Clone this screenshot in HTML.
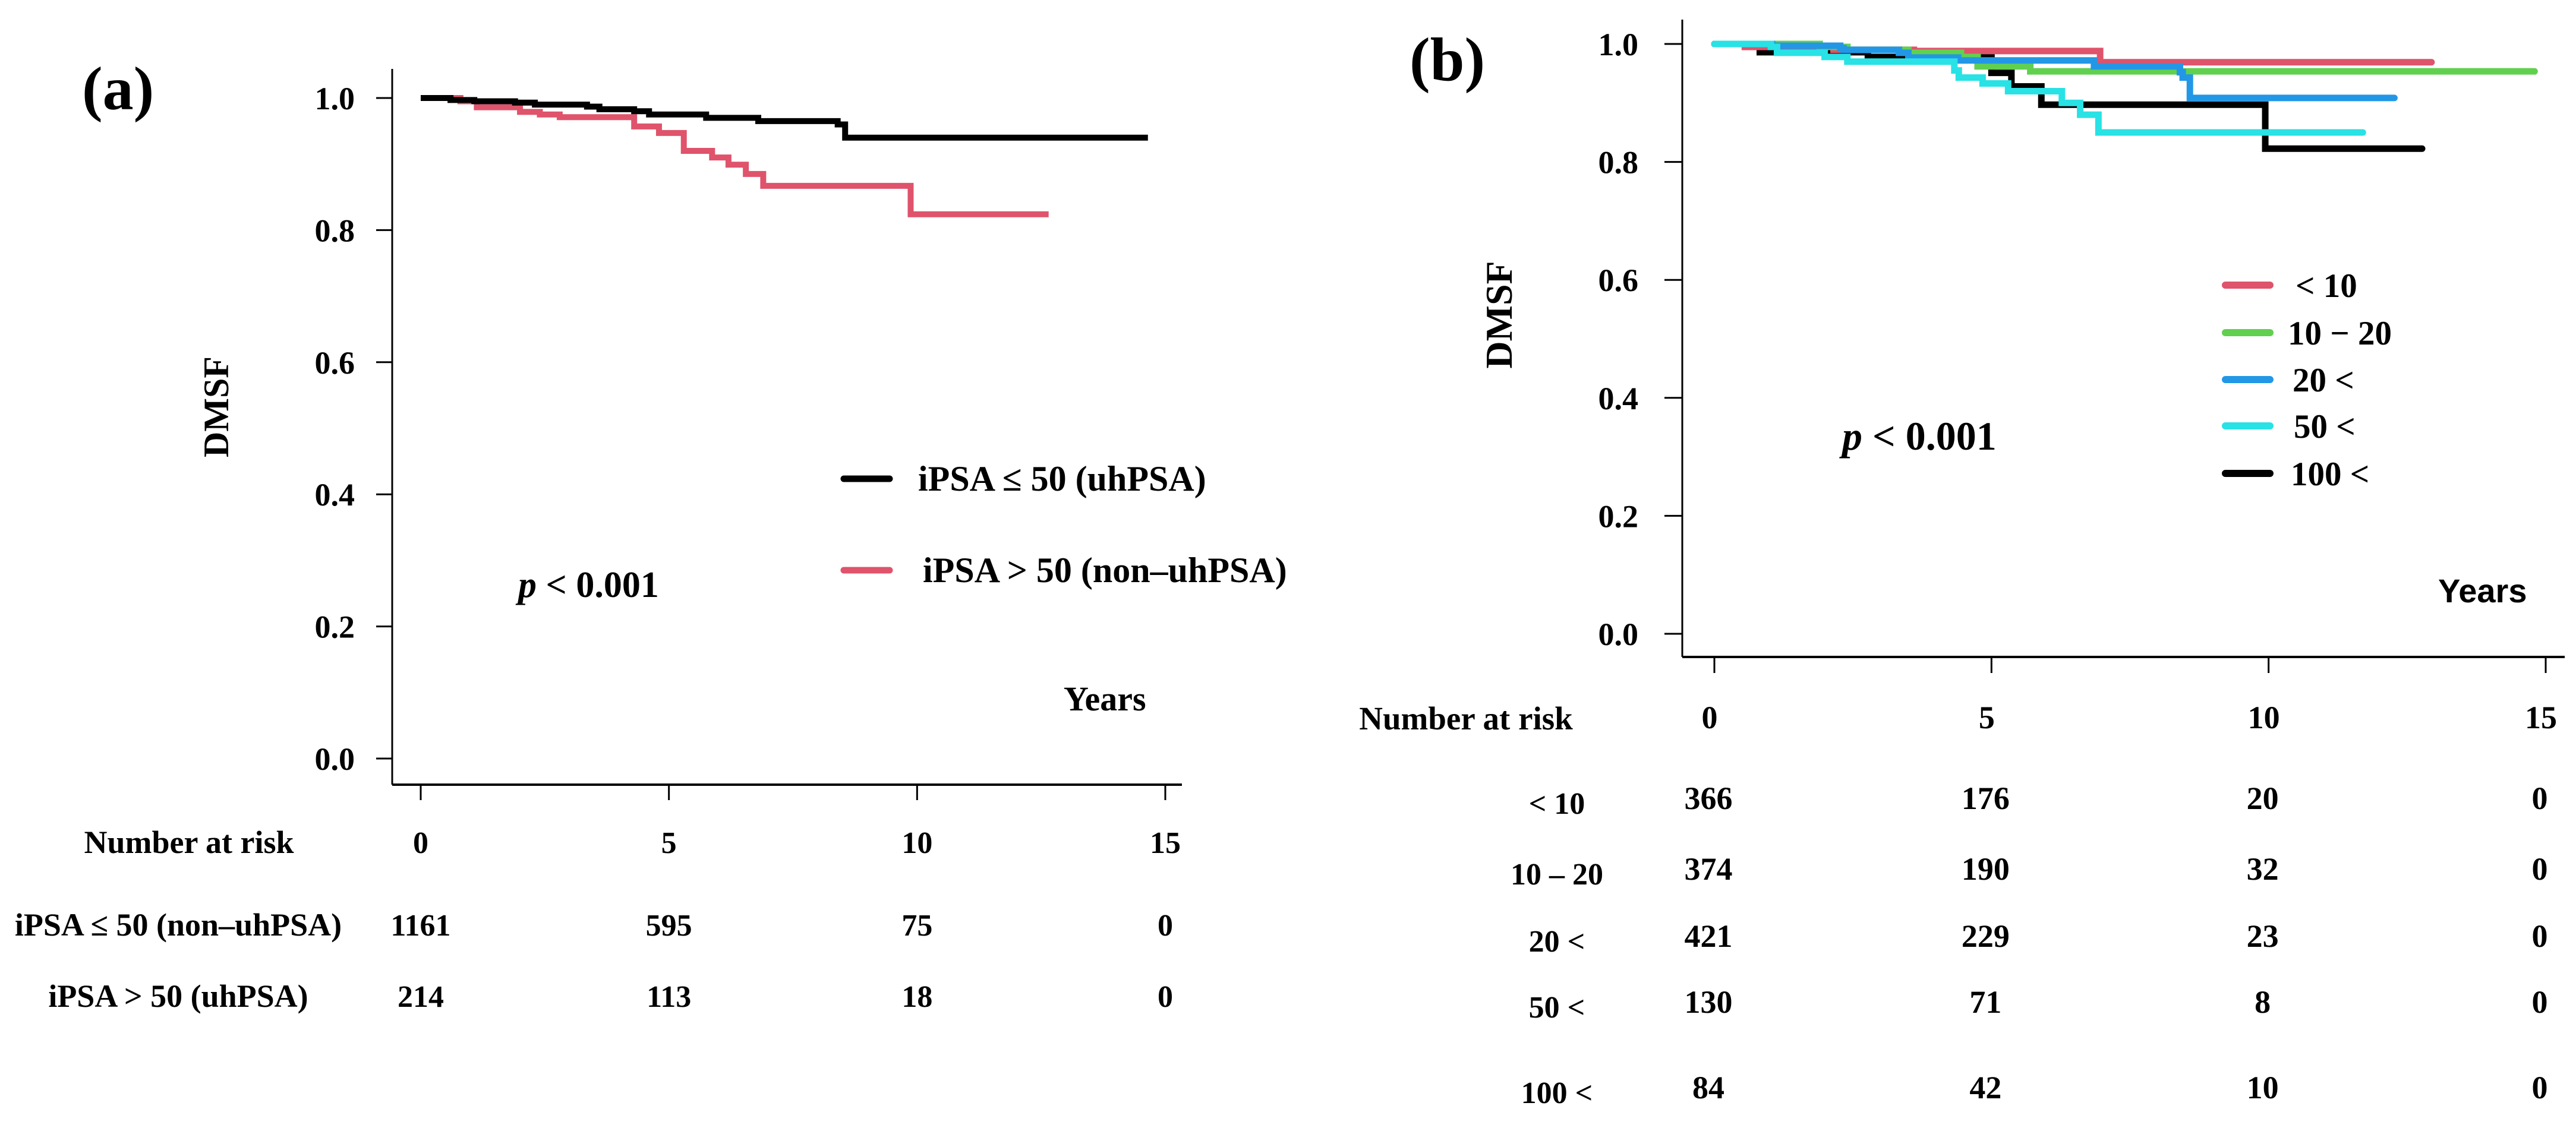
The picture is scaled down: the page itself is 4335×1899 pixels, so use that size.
<!DOCTYPE html>
<html><head><meta charset="utf-8">
<style>
html,body{margin:0;padding:0;background:#fff;}
svg{display:block;}
text{font-family:"Liberation Serif",serif;font-weight:bold;fill:#000;}
</style></head>
<body>
<svg id="fig" width="4335" height="1899" viewBox="0 0 4335 1899" xmlns="http://www.w3.org/2000/svg">
<g id="pa"></g>
<g id="pb"></g>
</svg>
<script>
// ---------- Panel (a) data ----------
const aYTicks = [0, 0.2, 0.4, 0.6, 0.8, 1.0];
const aYTickLabels = ["0.0","0.2","0.4","0.6","0.8","1.0"];
const xTicks = [0, 5, 10, 15];
const xTickLabels = ["0","5","10","15"];
const aBlackT = [0, 0.6, 1.08, 1.9, 2.3, 3.35, 3.6, 4.3, 4.6, 5.75, 6.8, 8.4, 8.55, 14.65];
const aBlackS = [1.0, 0.997, 0.995, 0.993, 0.99, 0.987, 0.983, 0.98, 0.975, 0.97, 0.965, 0.96, 0.94, 0.94];
const aRedT = [0, 0.8, 1.13, 2.0, 2.4, 2.8, 4.3, 4.8, 5.3, 5.87, 6.2, 6.55, 6.9, 9.87, 12.65];
const aRedS = [1.0, 0.995, 0.986, 0.979, 0.975, 0.971, 0.957, 0.947, 0.92, 0.91, 0.899, 0.885, 0.867, 0.824, 0.824];
const aRiskGroups = ["iPSA \u2264 50  (non\u2013uhPSA)", "iPSA > 50 (uhPSA)"];
const aRisk1 = [1161, 595, 75, 0];
const aRisk2 = [214, 113, 18, 0];

// ---------- Panel (b) data ----------
const bLt10T = [0, 0.55, 2.15, 3.6, 6.96, 12.94];
const bLt10S = [1.0, 0.995, 0.99, 0.988, 0.969, 0.969];
const b10to20T = [0, 1.9, 2.4, 3.5, 4.45, 4.75, 5.7, 14.8];
const b10to20S = [1.0, 0.995, 0.99, 0.985, 0.978, 0.962, 0.9535, 0.9535];
const b20T = [0, 1.04, 2.27, 2.33, 3.33, 3.5, 4.4, 6.85, 8.4, 8.45, 8.58, 12.27];
const b20S = [1.0, 0.997, 0.993, 0.99, 0.985, 0.977, 0.972, 0.962, 0.952, 0.943, 0.9085, 0.9085];
const b50T = [0, 1.02, 1.13, 1.99, 2.4, 4.33, 4.41, 4.84, 5.3, 6.27, 6.6, 6.93, 11.7];
const b50S = [1.0, 0.995, 0.985, 0.978, 0.97, 0.955, 0.943, 0.933, 0.92, 0.9, 0.88, 0.85, 0.85];
const b100T = [0, 0.82, 2.77, 5.0, 5.36, 5.9, 9.94, 12.77];
const b100S = [1.0, 0.986, 0.978, 0.951, 0.928, 0.897, 0.8225, 0.8225];
const bGroups = ["< 10", "10 \u2212 20", "20 <", "50 <", "100 <"];
const bRiskLabels = ["< 10", "10 \u2013 20", "20 <", "50 <", "100 <"];
const bRisk1 = [366, 176, 20, 0];
const bRisk2 = [374, 190, 32, 0];
const bRisk3 = [421, 229, 23, 0];
const bRisk4 = [130, 71, 8, 0];
const bRisk5 = [84, 42, 10, 0];

const NS = "http://www.w3.org/2000/svg";
function mk(parent, tag, attrs, txt){
  const e = document.createElementNS(NS, tag);
  for (const k in attrs) e.setAttribute(k, attrs[k]);
  if (txt !== undefined) e.textContent = txt;
  parent.appendChild(e);
  return e;
}
function stepPath(T, S, xs, ys){
  let d = "M" + xs(T[0]) + "," + ys(S[0]);
  for (let i = 1; i < T.length; i++){
    d += " H" + xs(T[i]) + " V" + ys(S[i]);
  }
  return d;
}

// ================= Panel (a) =================
(function(){
  const g = document.getElementById("pa");
  const xa = t => 708 + t * (1961 - 708) / 15;
  const ya = v => 1277 - v * (1277 - 165);
  let e;
  e = mk(g, "text", {x: 138, y: 184, "font-size": 104}, "(a)");
  
  
  e = mk(g, "line", {x1: 660, y1: 116, x2: 660, y2: 1321, stroke: "#000", "stroke-width": 3});
  
  
  e = mk(g, "line", {x1: 660, y1: 1321, x2: 1989, y2: 1321, stroke: "#000", "stroke-width": 4});
  
  
  aYTicks.forEach((v, i) => {
    const t = mk(g, "line", {x1: 633, y1: ya(v), x2: 660, y2: ya(v), stroke: "#000", "stroke-width": 3});
    
    
    const l = mk(g, "text", {x: 597, y: ya(v) + 19, "font-size": 54, "text-anchor": "end"}, aYTickLabels[i]);
    
    
  });
  xTicks.forEach((v, i) => {
    const t = mk(g, "line", {x1: xa(v), y1: 1321, x2: xa(v), y2: 1347, stroke: "#000", "stroke-width": 3});
    
    
    const l = mk(g, "text", {x: xa(v), y: 1436, "font-size": 52, "text-anchor": "middle"}, xTickLabels[i]);
    
    
  });
  e = mk(g, "text", {x: 0, y: 0, "font-size": 60, "text-anchor": "middle", transform: "translate(384,685) rotate(-90)"}, "DMSF");
  
  
  e = mk(g, "text", {x: 1790, y: 1196, "font-size": 58}, "Years");
  
  
  e = mk(g, "text", {x: 872, y: 1005, "font-size": 62});
  
  
  mk(e, "tspan", {"font-style": "italic"}, "p");
  mk(e, "tspan", {}, " < 0.001");

  e = mk(g, "path", {d: stepPath(aRedT, aRedS, xa, ya), fill: "none", stroke: "#DF536B", "stroke-width": 10});
  
  
  e = mk(g, "path", {d: stepPath(aBlackT, aBlackS, xa, ya), fill: "none", stroke: "#000", "stroke-width": 10});
  
  

  // legend
  e = mk(g, "line", {x1: 1420, y1: 806, x2: 1497, y2: 806, stroke: "#000", "stroke-width": 11, "stroke-linecap": "round"});
  
  
  e = mk(g, "text", {x: 1545, y: 826, "font-size": 60}, "iPSA \u2264 50  (uhPSA)");
  
  
  e = mk(g, "line", {x1: 1420, y1: 960, x2: 1497, y2: 960, stroke: "#DF536B", "stroke-width": 11, "stroke-linecap": "round"});
  
  
  e = mk(g, "text", {x: 1553, y: 980, "font-size": 60}, "iPSA > 50 (non\u2013uhPSA)");
  
  

  // risk table
  e = mk(g, "text", {x: 318, y: 1436, "font-size": 54, "text-anchor": "middle"}, "Number at risk");
  
  
  const rows = [aRisk1, aRisk2];
  const rowY = [1575, 1695];
  rows.forEach((r, ri) => {
    const l = mk(g, "text", {x: 300, y: rowY[ri], "font-size": 54, "text-anchor": "middle"}, aRiskGroups[ri]);
    
    
    r.forEach((n, ci) => {
      const c = mk(g, "text", {x: xa(xTicks[ci]), y: rowY[ri], "font-size": 52, "text-anchor": "middle"}, String(n));
      
      
    });
  });
})();

// ================= Panel (b) =================
(function(){
  const g = document.getElementById("pb");
  const xb = t => 2885 + t * (4284 - 2885) / 15;
  const yb = v => 1067 - v * (1067 - 74);
  let e;
  e = mk(g, "text", {x: 2372, y: 135, "font-size": 104}, "(b)");
  
  
  e = mk(g, "line", {x1: 2831, y1: 33, x2: 2831, y2: 1106, stroke: "#000", "stroke-width": 3});
  
  
  e = mk(g, "line", {x1: 2831, y1: 1106, x2: 4316, y2: 1106, stroke: "#000", "stroke-width": 4});
  
  
  aYTicks.forEach((v, i) => {
    const t = mk(g, "line", {x1: 2801, y1: yb(v), x2: 2831, y2: yb(v), stroke: "#000", "stroke-width": 3});
    
    
    const l = mk(g, "text", {x: 2757, y: yb(v) + 19, "font-size": 54, "text-anchor": "end"}, aYTickLabels[i]);
    
    
  });
  xTicks.forEach((v, i) => {
    const t = mk(g, "line", {x1: xb(v), y1: 1106, x2: xb(v), y2: 1133, stroke: "#000", "stroke-width": 3});
    
    
    const l = mk(g, "text", {x: xb(v) - 8, y: 1226, "font-size": 54, "text-anchor": "middle"}, xTickLabels[i]);
    
    
  });
  e = mk(g, "text", {x: 0, y: 0, "font-size": 64, "text-anchor": "middle", transform: "translate(2544,530) rotate(-90)"}, "DMSF");
  
  
  e = mk(g, "text", {x: 4103, y: 1014, "font-size": 56, style: "font-family:'Liberation Sans',sans-serif"}, "Years");
  
  
  e = mk(g, "text", {x: 3100, y: 757, "font-size": 68});
  
  
  mk(e, "tspan", {"font-style": "italic"}, "p");
  mk(e, "tspan", {}, " < 0.001");

  const colors = ["#DF536B", "#61D04F", "#2297E6", "#28E2E5", "#000000"];
  const curvesT = [bLt10T, b10to20T, b20T, b50T, b100T];
  const curvesS = [bLt10S, b10to20S, b20S, b50S, b100S];
  const names = ['curve-lt10', 'curve-10-20', 'curve-20', 'curve-50', 'curve-100'];
  const order = [4, 0, 1, 2, 3];
  order.forEach(i => {
    const p = mk(g, "path", {d: stepPath(curvesT[i], curvesS[i], xb, yb), fill: "none", stroke: colors[i], "stroke-width": 11, "stroke-linecap": "round"});
    
    
  });

  const legY = [480, 560, 639, 717, 797];
  const legX = [3863, 3850, 3858, 3860, 3855];
  bGroups.forEach((s, i) => {
    const sw = mk(g, "line", {x1: 3745, y1: legY[i], x2: 3820, y2: legY[i], stroke: colors[i], "stroke-width": 12, "stroke-linecap": "round"});
    
    
    const t = mk(g, "text", {x: legX[i], y: legY[i] + 20, "font-size": 57}, s);
    
    
  });

  e = mk(g, "text", {x: 2467, y: 1228, "font-size": 55, "text-anchor": "middle"}, "Number at risk");
  
  
  const rows = [bRisk1, bRisk2, bRisk3, bRisk4, bRisk5];
  const rowY = [1370, 1489, 1602, 1713, 1857];
  rows.forEach((r, ri) => {
    const l = mk(g, "text", {x: 2620, y: rowY[ri], "font-size": 52, "text-anchor": "middle"}, bRiskLabels[ri]);
    
    
    r.forEach((n, ci) => {
      const c = mk(g, "text", {x: xb(xTicks[ci]) - 10, y: rowY[ri] - 8, "font-size": 54, "text-anchor": "middle"}, String(n));
      
      
    });
  });
})();
</script>
</body></html>
